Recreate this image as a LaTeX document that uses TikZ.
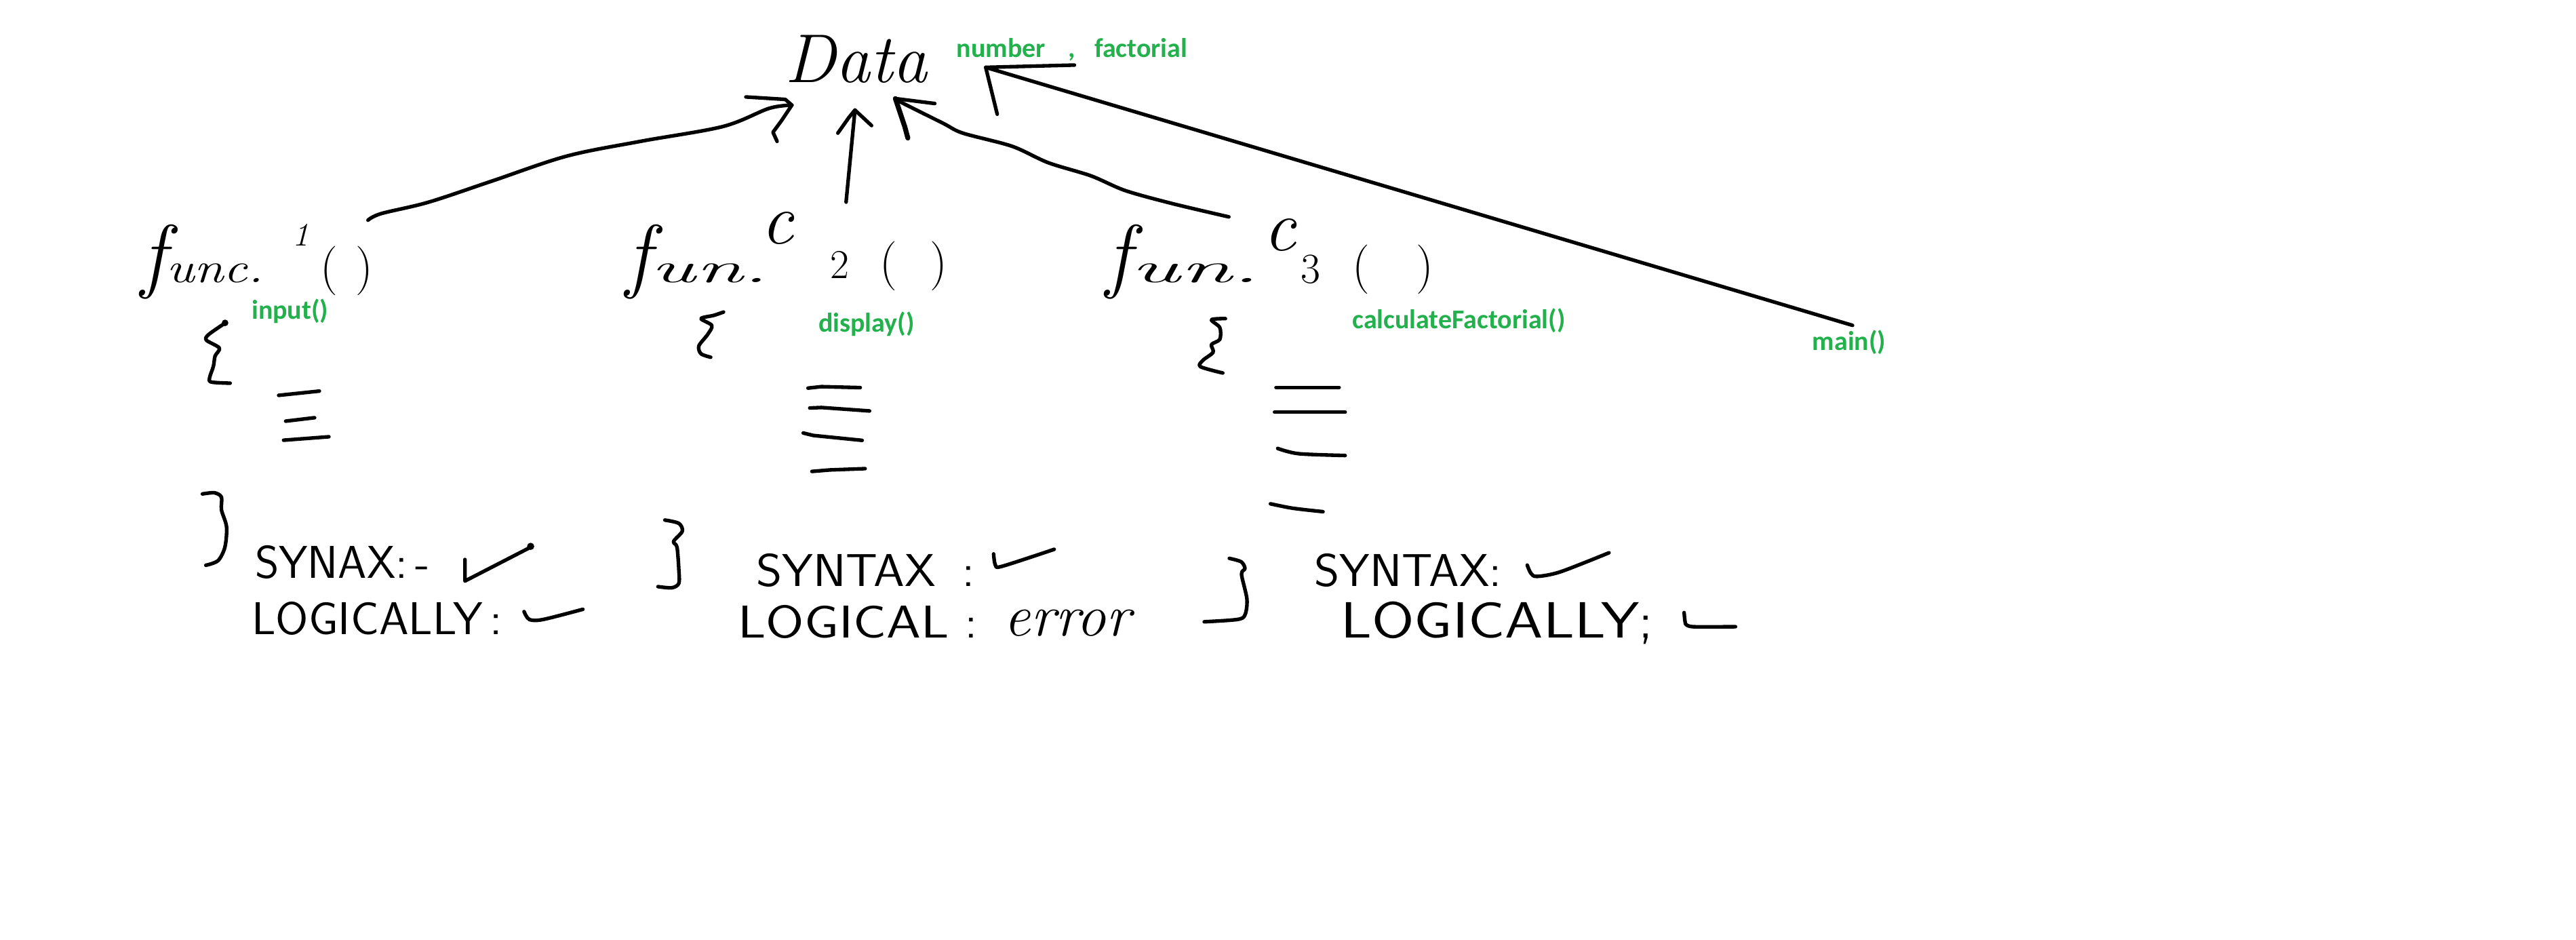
\documentclass[tikz,border=0pt]{standalone}
\usepackage{fontspec}
\usepackage{graphicx}
\newfontfamily\greenfont{Carlito}
\definecolor{pgreen}{HTML}{22B14C}
\newcommand{\myfs}[1]{\fontsize{#1}{#1}\selectfont}
\begin{document}
\begin{tikzpicture}[x=1pt,y=-1pt,
  pen/.style={line width=2.2pt,line cap=round,line join=round},
  lbl/.style={text=pgreen,font=\greenfont\bfseries\myfs{16.5},inner sep=0pt,anchor=base west},
  hand/.style={font=\sffamily\myfs{28},inner sep=0pt,anchor=base west},
  curs/.style={inner sep=0pt}]
\fill[white] (0,0) rectangle (1568,572);
\useasboundingbox (0,0) rectangle (1568,572);

% ---- Data and green labels
\node[curs,font=\itshape\myfs{42},anchor=base] (data) at (521,50) {Data};
\node[lbl] (num) at (582,35) {number};
\node[lbl] (comma) at (650,35) {,};
\node[lbl] (fact) at (666,35) {factorial};
\node[lbl] (inp) at (153,194) {input()};
\node[lbl] (disp) at (498,202) {display()};
\node[lbl] (calc) at (823,200) {calculateFactorial()};
\node[lbl] (mainf) at (1103,213) {main()};

% ---- function headers
\node[curs,anchor=base west] (f1) at (86,172) {\itshape\myfs{50}f\myfs{26}\scalebox{1.25}[1]{unc.}};
\node[curs,font=\itshape\myfs{20}] (f1n) at (183,143) {1};
\node[curs,font=\myfs{30}] (f1p) at (211,165) {(\hspace{11pt})};

\node[curs,anchor=base west] (f2) at (381,172) {\itshape\myfs{50}f\myfs{26}\scalebox{2.0}[1]{un.}};
\node[curs,font=\itshape\myfs{44}] (f2c) at (473,139) {c};
\node[curs,font=\myfs{25}] (f2n) at (511,161) {2};
\node[curs,font=\myfs{30}] (f2p) at (556,162) {(\hspace{20pt})};

\node[curs,anchor=base west] (f3) at (673,172) {\itshape\myfs{50}f\myfs{26}\scalebox{2.2}[1]{un.}};
\node[curs,font=\itshape\myfs{44}] (f3c) at (779,143) {c};
\node[curs,font=\myfs{26}] (f3n) at (798,164) {3};
\node[curs,font=\myfs{30}] (f3p) at (848,164) {(\hspace{28pt})};

% ---- result texts
\node[hand] (s1) at (155,352) {SYNAX:\,-};
\node[hand] (l1) at (153,386) {\scalebox{1.03}[1]{LOGICALLY\hspace{4pt}:}};
\node[hand] (s2) at (460,357) {\scalebox{1.08}[1]{SYNTAX}\hspace{16pt}:};
\node[hand] (l2) at (449,388) {\scalebox{1.2}[1]{LOGICAL}\hspace{10pt}:};
\node[curs,font=\itshape\myfs{36},anchor=base west] (e2) at (611,387) {error};
\node[hand] (s3) at (800,357) {\scalebox{1.05}[1]{SYNTAX}:};
\node[hand,font=\sffamily\myfs{31}] (l3) at (816,388) {\scalebox{1.2}[1]{LOGICALLY};};

% ---- arrows to Data
\coordinate (a1s) at (224,134);
\coordinate (a1t) at (482,64);
\draw[pen] plot[smooth,tension=0.55] coordinates {(a1s) (232,130) (261,123) (300,110) (345,95) (390,86) (440,77) (468,66) (a1t)};
\draw[pen] (a1t) -- (478,60.5) -- (454,59);
\draw[pen] (a1t) -- (476,73) -- (470.5,80.5) -- (473,86);

\coordinate (a2s) at (515,123);
\coordinate (a2t) at (520.4,67);
\draw[pen] (a2s) -- (a2t);
\draw[pen] (510,81) -- (516.7,71.5) -- (a2t) -- (530.5,76.4);

\coordinate (a3s) at (748,132);
\coordinate (a3t) at (545,60);
\draw[pen] plot[smooth,tension=0.5] coordinates {(a3s) (714,124) (685,116) (664,107) (638,99) (616,89) (586,81) (574,75) (548,62) (a3t)};
\draw[pen] (a3t) -- (569,63);
\draw[pen,line width=3pt] (a3t) -- (550.7,77) -- (552.6,84);

\coordinate (a4s) at (1127.6,198);
\coordinate (a4t) at (600,41);
\draw[pen] (a4s) -- (a4t) -- (654,39.6);
\draw[pen] (a4t) -- (607,69.5);

% ---- braces
\draw[pen] plot[smooth] coordinates {(136.6,196.9) (127,203.6) (125.6,207) (133.5,211.8) (130.9,216.7) (129.9,222.9) (127.6,229.8) (128.6,232.5) (140.1,233.2)};
\fill (137,196.5) circle (2pt);
\draw[pen] plot[smooth] coordinates {(123.2,300.6) (130.6,299.9) (134.8,302.6) (134.8,310.3) (137.9,320.6) (136.9,333) (132.7,341.2) (125.3,344)};
\draw[pen] plot[smooth] coordinates {(440.4,189.9) (434.6,191.9) (426.7,193.9) (433.3,198.1) (430.7,203.6) (425.4,210.5) (426.7,215.3) (432.6,217.4)};
\draw[pen] plot[smooth] coordinates {(404.7,316.5) (413.2,318.5) (415.3,323.3) (410,329.5) (412.1,333) (413.2,346.7) (413.2,355) (408.9,357.7) (400.5,357)};
\draw[pen] plot[smooth] coordinates {(745.9,193.9) (737.4,194.6) (742.5,199.4) (742.5,206.5) (737.4,209.7) (738.4,214.4) (732.3,219.2) (730.6,223.1) (744.3,227)};
\draw[pen] plot[smooth] coordinates {(748.3,339.8) (755.5,341.9) (757.8,346) (755.7,349.5) (759,364.6) (757.8,374.2) (753.1,377) (733,378.4)};

% ---- body lines
\draw[pen] (169.6,240.6) -- (194.4,238);
\draw[pen] (173.9,256.3) -- (191.5,254.2);
\draw[pen] (172.6,267.9) -- (200.2,265.8);
\draw[pen] (491.8,236.2) -- (500,235.3) -- (523.6,235.9);
\draw[pen] (492.9,248.3) -- (500,248) -- (529.3,250.1);
\draw[pen] (488.9,263.5) -- (495,265) -- (524.8,268);
\draw[pen] (494.2,286.9) -- (505,286) -- (526.6,285.2);
\draw[pen] (776.7,235.8) -- (815.1,235.8);
\draw[pen] (775.8,250.8) -- (818.8,250.8);
\draw[pen] plot[smooth] coordinates {(777.7,272.9) (790.4,276.1) (818.8,277.2)};
\draw[pen] plot[smooth] coordinates {(773.3,306.6) (786.9,309.3) (805.3,311.4)};

% ---- check marks
\draw[pen] (283,340.5) -- (283,353.6) -- (323,333);
\fill (323,332.5) circle (2.2pt);
\draw[pen] plot[smooth] coordinates {(319,372.2) (322.2,377) (330.6,377) (354.8,370.8)};
\draw[pen] plot[smooth] coordinates {(604.8,337.1) (605.9,343.9) (610.1,344.6) (641.7,334.3)};
\draw[pen] plot[smooth] coordinates {(929.6,343.9) (931.8,348.8) (935.5,350.8) (949.8,348) (979.4,336.4)};
\draw[pen] plot[smooth,tension=0.3] coordinates {(1025.1,372.8) (1026,379.7) (1030.3,381.4) (1056.4,381.4)};
\end{tikzpicture}
\end{document}
